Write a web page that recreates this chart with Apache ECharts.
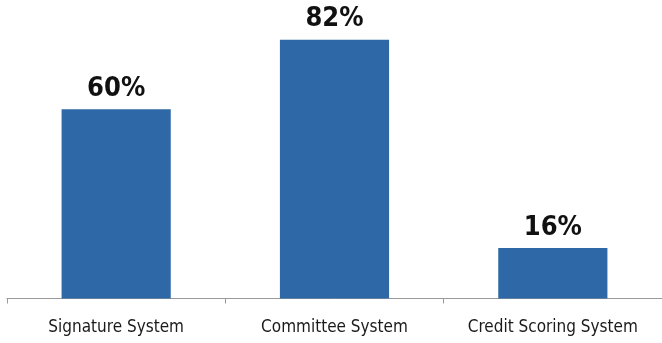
<!DOCTYPE html>
<html><head><meta charset="utf-8">
<script src="https://cdn.jsdelivr.net/npm/echarts@6/dist/echarts.min.js"></script>
<style>html,body{margin:0;padding:0;background:#fff}#c{width:662px;height:343px}</style>
</head><body><div id="c"></div>
<script>
var categories = ["Signature System", "Committee System", "Credit Scoring System"];
var values = [60, 82, 16];
var FONT = "'DejaVu Sans Condensed', 'DejaVu Sans', sans-serif";
var chart = echarts.init(document.getElementById('c'), null, {renderer: 'canvas'});
chart.setOption({
  animation: false,
  grid: {left: 7, right: 0, top: 14.5, bottom: 44.5, containLabel: false},
  xAxis: {
    type: 'category', data: categories,
    axisLine: {lineStyle: {color: '#999', width: 1}},
    axisTick: {show: true, alignWithLabel: false, length: 5, lineStyle: {color: '#999'}},
    axisLabel: {color: '#1a1a1a', fontFamily: FONT, fontWeight: 'normal condensed', fontSize: 17, margin: 21, interval: 0, hideOverlap: false}
  },
  yAxis: {type: 'value', min: 0, max: 90, show: false, splitLine: {show: false}},
  series: [{
    type: 'bar', data: values, barWidth: '50%',
    itemStyle: {color: '#2E68A6'},
    label: {show: true, position: 'top', distance: 7, formatter: '{c}%', color: '#111',
      fontFamily: FONT, fontWeight: 'bold condensed', fontSize: 27}
  }]
});
</script></body></html>
